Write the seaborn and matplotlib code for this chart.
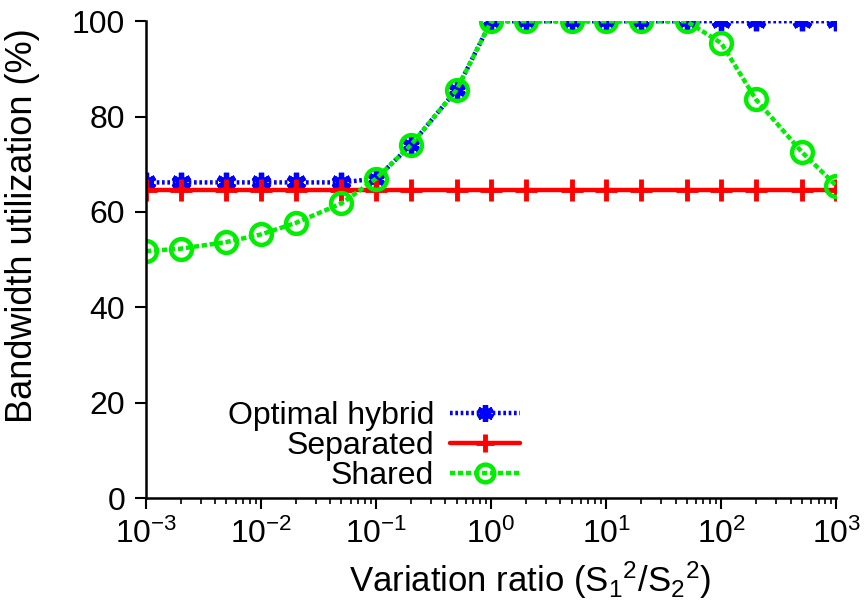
import math
import matplotlib
matplotlib.use("Agg")
import matplotlib.pyplot as plt
import matplotlib.ticker as mticker
import seaborn as sns
import pandas as pd

# variation ratio, 1-2-5 steps per decade
ratio = [0.001, 0.002, 0.005, 0.01, 0.02, 0.05, 0.1, 0.2, 0.5,
         1, 2, 5, 10, 20, 50, 100, 200, 500, 1000]

optimal = [66.2, 66.2, 66.2, 66.2, 66.2, 66.2, 67.0, 74.0, 85.6,
           100, 100, 100, 100, 100, 100, 100, 100, 100, 100]
separated = [64.6] * 19
shared = [51.8, 52.3, 53.7, 55.3, 57.7, 61.8, 67.0, 74.0, 85.6,
          100, 100, 100, 100, 100, 100, 95.4, 83.6, 72.6, 65.5]

df = pd.DataFrame({"ratio": ratio, "Optimal hybrid": optimal,
                   "Separated": separated, "Shared": shared})

sns.set_style("ticks")
plt.rcParams["font.family"] = ["Liberation Sans", "DejaVu Sans"]
plt.rcParams["mathtext.fontset"] = "custom"
plt.rcParams["mathtext.rm"] = "Liberation Sans"
plt.rcParams["mathtext.it"] = "Liberation Sans"
plt.rcParams["text.color"] = "black"
plt.rcParams["axes.labelcolor"] = "black"
plt.rcParams["xtick.color"] = "black"
plt.rcParams["ytick.color"] = "black"

fig = plt.figure(figsize=(8.64, 6.06), dpi=100)
ax = fig.add_axes([0.169, 0.178, 0.799, 0.787])

sns.lineplot(data=df, x="ratio", y="Optimal hybrid", ax=ax, color="#0000ff",
             linestyle=(0, (0.6, 0.6)), linewidth=3.2, marker=(6, 2, 0),
             markersize=14, markeredgewidth=3.8, markeredgecolor="#0000ff",
             label="Optimal hybrid")
sns.lineplot(data=df, x="ratio", y="Separated", ax=ax, color="#ff0000",
             linewidth=3.2, marker="+", markersize=16, markeredgewidth=3.5,
             markeredgecolor="#ff0000", label="Separated")
sns.lineplot(data=df, x="ratio", y="Shared", ax=ax, color="#00ee00",
             linestyle=(0, (1.2, 0.6)), linewidth=3.2, marker="o",
             markersize=15, markerfacecolor="none", markeredgewidth=3.2,
             markeredgecolor="#00ee00", label="Shared")

ax.set_xscale("log")
ax.set_xlim(0.001, 1000)
ax.set_ylim(0, 100)
ax.set_yticks([0, 20, 40, 60, 80, 100])
ax.xaxis.set_major_locator(mticker.LogLocator(base=10, numticks=10))
ax.xaxis.set_major_formatter(mticker.FuncFormatter(
    lambda v, p: r"$\mathregular{10^{%d}}$" % round(math.log10(v))))
ax.xaxis.set_minor_locator(mticker.LogLocator(base=10, subs=range(2, 10), numticks=20))
ax.xaxis.set_minor_formatter(mticker.NullFormatter())

ax.tick_params(axis="both", which="major", labelsize=23, length=8, width=1.5,
               direction="out", pad=7)
ax.tick_params(axis="x", which="minor", length=4, width=1.2, direction="out")
ax.set_xlabel("Variation ratio (S$_1$$^2$/S$_2$$^2$)", fontsize=25)
ax.set_ylabel("Bandwidth utilization (%)", fontsize=26)
ax.xaxis.set_label_coords(0.557, -0.128)
ax.yaxis.set_label_coords(-0.153, 0.572)

for s in ["top", "right"]:
    ax.spines[s].set_visible(False)
for s in ["left", "bottom"]:
    ax.spines[s].set_linewidth(1.8)
    ax.spines[s].set_color("black")

ax.legend(loc="lower right", bbox_to_anchor=(0.602, 0.19),
          bbox_transform=fig.transFigure, frameon=False,
          markerfirst=False, fontsize=23, handlelength=2.2, markerscale=0.85,
          labelspacing=0.0, handletextpad=0.5, borderpad=0, borderaxespad=0)

fig.savefig("out.png", dpi=100)
